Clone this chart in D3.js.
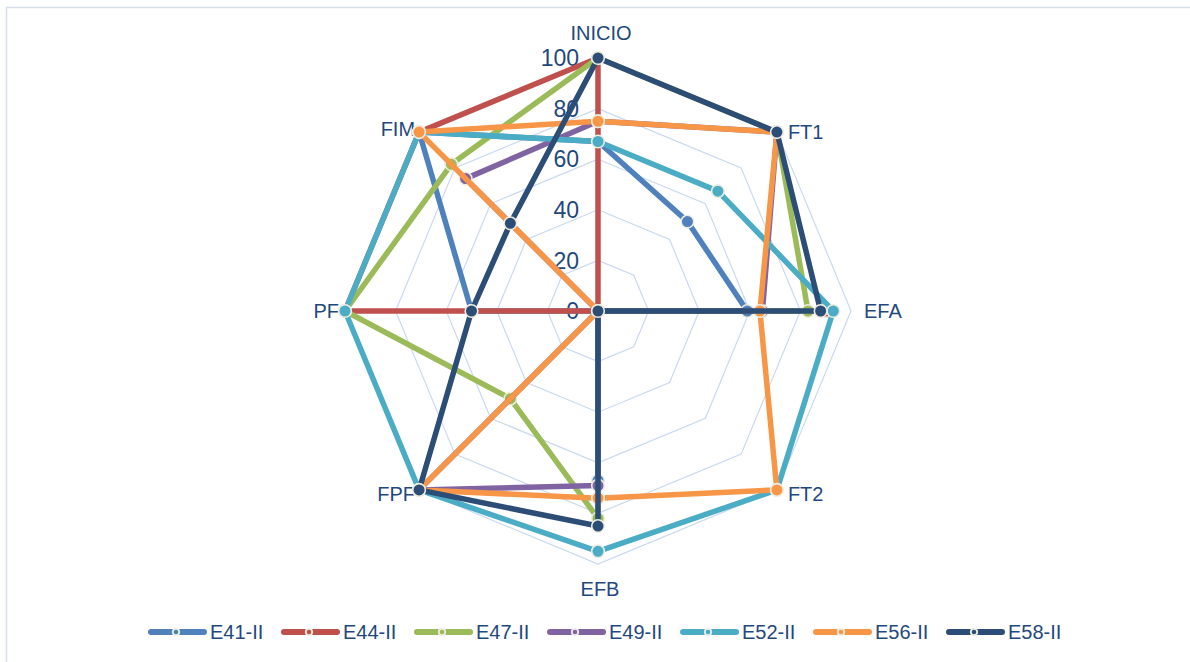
<!DOCTYPE html>
<html>
<head>
<meta charset="utf-8">
<script src="https://cdn.jsdelivr.net/npm/d3@7"></script>
<style>
  html, body { margin: 0; padding: 0; background: #ffffff; }
  svg { display: block; }
  text { font-family: "Liberation Sans Narrow", "Liberation Sans", Arial, sans-serif; fill: #1F497D; }
</style>
</head>
<body>
<svg id="chart" width="1190" height="662"></svg>
<script>
// ---- data ----
const axesLabels = ["INICIO", "FT1", "EFA", "FT2", "EFB", "FPF", "PF", "FIM"];
const seriesNames = ["E41-II", "E44-II", "E47-II", "E49-II", "E52-II", "E56-II", "E58-II"];
const seriesColors = ["#4F81BD", "#C0504D", "#9BBB59", "#8064A2", "#4BACC6", "#F79646", "#2C4D75"];
const E41 = [67, 50, 59, 0, 67, 0, 50, 100];
const E44 = [100, 0, 90, 0, 0, 0, 100, 100];
const E47 = [100, 100, 83, 0, 82, 49, 100, 82];
const E49 = [75, 100, 65, 0, 69, 100, 0, 74];
const E52 = [67, 67, 93, 100, 95, 100, 100, 100];
const E56 = [75, 100, 64, 100, 74, 100, 0, 100];
const E58 = [100, 100, 88, 0, 85, 100, 50, 49];
const tickValues = [0, 20, 40, 60, 80, 100];

const seriesValues = [E41, E44, E47, E49, E52, E56, E58];

// ---- layout ----
const svg = d3.select("#chart");
const cx = 598, cy = 311, R = 253;
const r = d3.scaleLinear().domain([0, 100]).range([0, R]);
const angle = d3.scalePoint().domain(axesLabels).range([0, 2 * Math.PI * (axesLabels.length - 1) / axesLabels.length]);

function pt(axis, v) {
  const a = angle(axis);
  return [cx + r(v) * Math.sin(a), cy - r(v) * Math.cos(a)];
}

// frame
svg.append("path")
  .attr("d", "M6.5,662 L6.5,7.5 L1190,7.5")
  .attr("fill", "none").attr("stroke", "#D5DEEA").attr("stroke-width", 1.5);

// grid rings
const g = svg.append("g");
tickValues.filter(v => v > 0).forEach(v => {
  const pts = axesLabels.map(a => pt(a, v));
  g.append("path")
    .attr("d", d3.line()(pts) + "Z")
    .attr("fill", "none")
    .attr("stroke", "#C9D9EF")
    .attr("stroke-width", 1.2);
});

// tick labels
tickValues.forEach(v => {
  g.append("text")
    .attr("x", cx - 19)
    .attr("y", cy - r(v))
    .attr("dy", "0.36em")
    .attr("text-anchor", "end")
    .attr("font-size", 23)
    .text(v);
});

// axis labels
const labelOffsets = {
  "INICIO": { dx: 3, dy: -25, anchor: "middle" },
  "FT1": { dx: 11, dy: 0, anchor: "start" },
  "EFA": { dx: 13, dy: 0, anchor: "start" },
  "FT2": { dx: 11, dy: 4, anchor: "start" },
  "EFB": { dx: 2, dy: 25, anchor: "middle" },
  "FPF": { dx: -4, dy: 4, anchor: "end" },
  "PF": { dx: -6, dy: 0, anchor: "end" },
  "FIM": { dx: -4, dy: -3, anchor: "end" }
};
axesLabels.forEach(a => {
  const [x, y] = pt(a, 100);
  const o = labelOffsets[a];
  g.append("text")
    .attr("x", x + o.dx)
    .attr("y", y + o.dy)
    .attr("dy", "0.36em")
    .attr("text-anchor", o.anchor)
    .attr("font-size", 20)
    .text(a);
});

// series
const line = d3.line().curve(d3.curveLinearClosed);
seriesValues.forEach((vals, i) => {
  const pts = axesLabels.map((a, j) => pt(a, vals[j]));
  const sg = svg.append("g");
  sg.append("path")
    .attr("d", line(pts))
    .attr("fill", "none")
    .attr("stroke", seriesColors[i])
    .attr("stroke-width", 5.5)
    .attr("stroke-linejoin", "round");
  sg.selectAll("circle").data(pts).join("circle")
    .attr("cx", d => d[0]).attr("cy", d => d[1])
    .attr("r", 6.3)
    .attr("fill", seriesColors[i])
    .attr("stroke", "#EEECE1")
    .attr("stroke-width", 1.6);
});

// legend
const legX0 = 148, legStep = 133, legY = 632;
seriesNames.forEach((name, i) => {
  const x = legX0 + i * legStep;
  const lg = svg.append("g");
  lg.append("line")
    .attr("x1", x + 3).attr("x2", x + 56)
    .attr("y1", legY).attr("y2", legY)
    .attr("stroke", seriesColors[i]).attr("stroke-width", 6)
    .attr("stroke-linecap", "round");
  lg.append("circle")
    .attr("cx", x + 28).attr("cy", legY).attr("r", 3.2)
    .attr("fill", seriesColors[i]).attr("stroke", "#EEECE1").attr("stroke-width", 1.8);
  lg.append("text")
    .attr("x", x + 62).attr("y", legY)
    .attr("dy", "0.36em")
    .attr("font-size", 20)
    .text(name);
});
</script>
</body>
</html>
